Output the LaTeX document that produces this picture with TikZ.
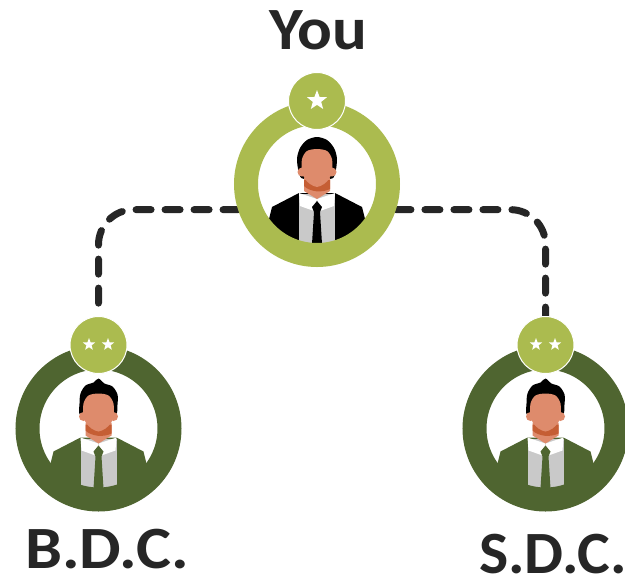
\documentclass[tikz,border=0pt]{standalone}
\usepackage{fontspec}
\setmainfont{Carlito}
\usepackage{xcolor}
\usetikzlibrary{backgrounds,shapes.geometric}
\definecolor{lightgreen}{HTML}{ABBB4F}
\definecolor{darkgreen}{HTML}{4F6530}
\definecolor{skin}{HTML}{DE8B6C}
\definecolor{skinshade}{HTML}{C55E34}
\definecolor{shirtgrey}{HTML}{C9C9C9}
\definecolor{inkgrey}{HTML}{262626}
\tikzset{
  ringnode/.style={circle,draw=#1,line width=24pt,minimum size=142pt,inner sep=0pt},
  badgenode/.style={circle,fill=lightgreen,draw=white,line width=1pt,minimum size=57pt,inner sep=0pt},
  starnode/.style={star,star points=5,star point ratio=2.4,fill=white,inner sep=0pt,minimum size=#1,yshift=0.5pt},
  namenode/.style={anchor=base,inner sep=0pt,text=inkgrey,font=\fontsize{60}{60}\selectfont\bfseries\addfontfeature{FakeStretch=#1}},
  linkline/.style={draw=inkgrey,line width=7pt,line cap=round,dash pattern=on 15pt off 14pt,rounded corners=35pt}
}
% body, face and tie; the hair comes as the last argument
\newcommand{\personfig}[4]{
  \begin{scope}[shift={(#1)}]
    \fill[#2] (-48,35)--(-45,23)--(-18,9)--(18,9)--(45,23)--(48,35)--(48,60)--(-48,60)--cycle;
    \fill[shirtgrey] (-18,10) rectangle (18,60);
    \fill[white] (-18,9)--(0,15)--(-3,27)--(-17,22)--cycle;
    \fill[white] (18,9)--(0,15)--(3,27)--(17,22)--cycle;
    \fill[#3] (0,17)--(5,23)--(3,28)--(5,60)--(-5,60)--(-3,28)--(-5,23)--cycle;
    \fill[black] plot[smooth cycle] coordinates {#4};
    \fill[skin] (-13,-6)--(13,-6)--(13,7)--(0,15)--(-13,7)--cycle;
    \fill[skinshade] (-13,-4)--(13,-4)--(13,5)..controls (5,9) and (-7,8)..(-13,2)--cycle;
    \fill[skin] (-15,-12) circle (4.5);
    \fill[skin] (15,-12) circle (4.5);
    \fill[skin] plot[smooth cycle] coordinates {(-15,-25)(-10,-33)(0,-35)(10,-33)(15,-25)(15,-12)(12,-5)(7,0)(0,3)(-7,0)(-12,-5)(-15,-12)};
  \end{scope}
}
\newcommand{\roundhair}{(-18,-11)(-20,-25)(-17,-36)(-10,-44)(0,-47)(10,-44)(17,-36)(20,-25)(18,-10)(13,-5)(-13,-5)}
\newcommand{\spikehair}{(-18,-13)(-19,-25)(-18,-35)(-13,-43)(-5,-46)(0,-50)(6,-45)(14,-42)(19,-34)(19,-24)(17,-13)(0,-10)}

\begin{document}
\begin{tikzpicture}[x=1pt,y=-1pt]
  \useasboundingbox (0,0) rectangle (625,579);
  \personfig{317,184}{black}{black}{\roundhair}
  \personfig{98.5,428.5}{darkgreen}{darkgreen}{\spikehair}
  \personfig{545.5,428.5}{darkgreen}{darkgreen}{\spikehair}

  \node[ringnode=lightgreen] (you) at (317,184) {};
  \node[ringnode=darkgreen] (bdc) at (98.5,428.5) {};
  \node[ringnode=darkgreen] (sdc) at (545.5,428.5) {};

  \node[badgenode] (youbadge) at (317,101) {};
  \node[badgenode] (bdcbadge) at (98.5,345) {};
  \node[badgenode] (sdcbadge) at (545.5,345) {};

  \node[starnode=21pt] (youstar) at (youbadge) {};
  \node[starnode=13pt,xshift=-9.5pt] (bdcstarl) at (bdcbadge) {};
  \node[starnode=13pt,xshift=9.5pt] (bdcstarr) at (bdcbadge) {};
  \node[starnode=13pt,xshift=-9.5pt] (sdcstarl) at (sdcbadge) {};
  \node[starnode=13pt,xshift=9.5pt] (sdcstarr) at (sdcbadge) {};

  \begin{scope}[on background layer]
    \draw[linkline] (you.198) -| (bdcbadge);
    \draw[linkline] (you.342) -| (sdcbadge);
  \end{scope}

  \node[namenode=1.08] (youname) at (318.5,49) {You};
  \node[namenode=1.1] (bdcname) at (107,568) {B.D.C.};
  \node[namenode=1.03] (sdcname) at (553,573) {S.D.C.};
\end{tikzpicture}
\end{document}
